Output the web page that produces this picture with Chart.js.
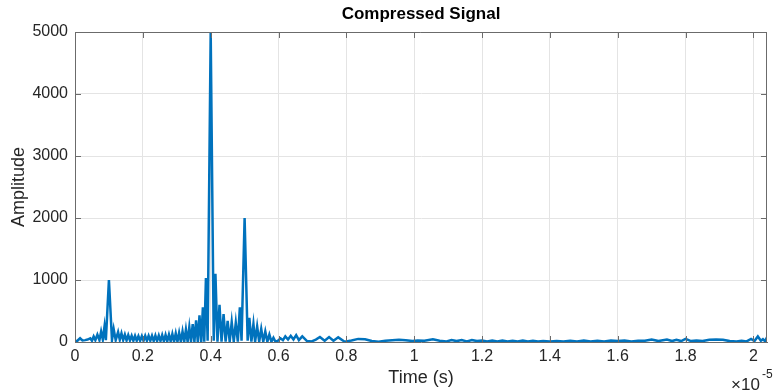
<!DOCTYPE html>
<html>
<head>
<meta charset="utf-8">
<script src="https://cdn.jsdelivr.net/npm/chart.js@4.4.0/dist/chart.umd.min.js"></script>
<style>
  html, body { margin: 0; padding: 0; background: #fff; }
  #wrap { width: 775px; height: 392px; }
</style>
</head>
<body>
<div id="wrap"><canvas id="ChartSignal" width="775" height="392"></canvas></div>
<script>
// time in units of 1e-5 s, amplitude
var timeE5 = [
    0.000, 0.007, 0.015, 0.022, 0.030, 0.037, 0.045, 0.050, 0.055, 0.060,
    0.066, 0.072, 0.077, 0.082, 0.087, 0.091, 0.100, 0.109, 0.114, 0.120,
    0.127, 0.132, 0.137, 0.142, 0.147, 0.152, 0.157, 0.162, 0.167, 0.172,
    0.177, 0.182, 0.187, 0.192, 0.197, 0.202, 0.207, 0.212, 0.217, 0.222,
    0.227, 0.232, 0.237, 0.242, 0.247, 0.252, 0.257, 0.262, 0.267, 0.272,
    0.277, 0.282, 0.287, 0.292, 0.297, 0.302, 0.307, 0.312, 0.317, 0.322,
    0.327, 0.332, 0.337, 0.342, 0.347, 0.352, 0.357, 0.362, 0.367, 0.372,
    0.377, 0.381, 0.386, 0.391, 0.400, 0.409, 0.414, 0.420, 0.426, 0.432,
    0.438, 0.444, 0.450, 0.456, 0.462, 0.468, 0.474, 0.480, 0.486, 0.491,
    0.500, 0.509, 0.514, 0.520, 0.526, 0.531, 0.537, 0.543, 0.549, 0.555,
    0.561, 0.567, 0.573, 0.579, 0.585, 0.591, 0.597, 0.606, 0.613, 0.620,
    0.628, 0.636, 0.644, 0.652, 0.660, 0.670, 0.684, 0.698, 0.710, 0.722,
    0.736, 0.749, 0.762, 0.776, 0.795, 0.815, 0.835, 0.855, 0.875, 0.895,
    0.915, 0.935, 0.955, 0.975, 0.995, 1.010, 1.030, 1.055, 1.075, 1.095,
    1.110, 1.125, 1.140, 1.155, 1.170, 1.185, 1.200, 1.215, 1.230, 1.245,
    1.260, 1.275, 1.290, 1.305, 1.320, 1.335, 1.350, 1.365, 1.380, 1.400,
    1.420, 1.440, 1.460, 1.480, 1.500, 1.520, 1.540, 1.560, 1.580, 1.600,
    1.620, 1.640, 1.660, 1.680, 1.700, 1.720, 1.745, 1.760, 1.773, 1.787,
    1.800, 1.816, 1.832, 1.850, 1.870, 1.890, 1.910, 1.930, 1.950, 1.965,
    1.980, 1.993, 2.003, 2.013, 2.022, 2.028, 2.034, 2.040
];
var amplitude = [
    15, 20, 60, 25, 30, 40, 60, 20, 90, 30,
    120, 30, 170, 40, 250, 30, 1000, 30, 210, 30,
    160, 35, 140, 30, 120, 25, 110, 25, 100, 20,
    100, 20, 95, 20, 95, 20, 100, 20, 100, 20,
    100, 15, 105, 15, 105, 15, 110, 10, 115, 10,
    120, 10, 130, 5, 140, 5, 150, 5, 170, 5,
    200, 5, 240, 5, 290, 3, 350, 3, 430, 3,
    560, 3, 1030, 20, 5000, 20, 1100, 5, 600, 5,
    450, 5, 340, 5, 320, 5, 310, 5, 560, 20,
    2000, 20, 390, 5, 290, 5, 250, 5, 210, 5,
    170, 5, 120, 5, 70, 5, 15, 60, 30, 90,
    40, 100, 40, 110, 30, 90, 15, 10, 40, 80,
    20, 80, 20, 75, 5, 25, 50, 45, 15, 5,
    20, 30, 35, 30, 15, 25, 20, 45, 20, 10,
    30, 15, 30, 10, 30, 15, 25, 10, 25, 10,
    25, 10, 20, 10, 25, 10, 20, 10, 15, 10,
    15, 10, 20, 10, 25, 10, 20, 10, 25, 15,
    25, 10, 20, 20, 40, 15, 40, 15, 35, 15,
    50, 15, 25, 15, 35, 40, 35, 15, 10, 20,
    10, 50, 15, 90, 20, 45, 15, 75
];
var xTickValues = [0, 0.2, 0.4, 0.6, 0.8, 1, 1.2, 1.4, 1.6, 1.8, 2];
var yTickValues = [0, 1000, 2000, 3000, 4000, 5000];

var lineColor = '#0072BD';
var axisColor = '#6b6b6b';
var gridColor = '#e4e4e4';
var fontFamily = '"Liberation Sans", Arial, Helvetica, sans-serif';

// MATLAB-like box, inward ticks, titles and exponent
const matlabAxes = {
    id: 'matlabAxes',
    afterDraw(chart) {
        const ctx = chart.ctx;
        const a = chart.chartArea;
        const xs = chart.scales.x;
        const ys = chart.scales.y;
        ctx.save();
        ctx.strokeStyle = axisColor;
        ctx.lineWidth = 1;
        ctx.beginPath();
        ctx.moveTo(a.left, a.top + 0.5);
        ctx.lineTo(a.right - 0.5, a.top + 0.5);
        ctx.lineTo(a.right - 0.5, a.bottom);
        ctx.stroke();
        ctx.beginPath();
        xTickValues.forEach(function (v) {
            const px = Math.round(xs.getPixelForValue(v)) + 0.5;
            ctx.moveTo(px, a.bottom);
            ctx.lineTo(px, a.bottom - 6);
            ctx.moveTo(px, a.top);
            ctx.lineTo(px, a.top + 6);
        });
        yTickValues.forEach(function (v) {
            const py = Math.round(ys.getPixelForValue(v)) + 0.5;
            ctx.moveTo(a.left, py);
            ctx.lineTo(a.left + 6, py);
            ctx.moveTo(a.right, py);
            ctx.lineTo(a.right - 6, py);
        });
        ctx.stroke();

        ctx.fillStyle = '#000';
        ctx.textAlign = 'center';
        ctx.textBaseline = 'middle';
        ctx.font = 'bold 17px ' + fontFamily;
        ctx.fillText('Compressed Signal', (a.left + a.right) / 2, 14);

        ctx.fillStyle = '#262626';
        ctx.font = '18px ' + fontFamily;
        ctx.fillText('Time (s)', (a.left + a.right) / 2, 378);

        ctx.save();
        ctx.translate(19, (a.top + a.bottom) / 2);
        ctx.rotate(-Math.PI / 2);
        ctx.fillText('Amplitude', 0, 0);
        ctx.restore();

        ctx.textAlign = 'left';
        ctx.font = '17px ' + fontFamily;
        ctx.fillText('\u00d710', 731, 385);
        ctx.font = '12px ' + fontFamily;
        ctx.fillText('-5', 762, 375);
        ctx.restore();
    }
};

const chartSignal = document.getElementById('ChartSignal');
new Chart(chartSignal, {
    type: 'line',
    data: {
        datasets: [
            {
                label: 'Compressed Signal',
                data: timeE5.map(function (t, i) { return { x: t, y: amplitude[i] }; }),
                borderColor: lineColor,
                backgroundColor: lineColor,
                borderWidth: 2.5,
                pointRadius: 0,
                tension: 0,
                fill: false,
            },
        ]
    },
    options: {
        responsive: false,
        animation: false,
        layout: {
            padding: { left: 0, right: 8, top: 32, bottom: 0 }
        },
        plugins: {
            legend: { display: false },
            title: { display: false },
            tooltip: { enabled: false }
        },
        scales: {
            x: {
                type: 'linear',
                min: 0,
                max: 2.04,
                afterBuildTicks: function (scale) {
                    scale.ticks = xTickValues.map(function (v) { return { value: v }; });
                },
                afterFit: function (scale) { scale.height = 50; },
                ticks: {
                    autoSkip: false,
                    maxRotation: 0,
                    padding: 5,
                    color: '#262626',
                    font: { family: fontFamily, size: 16 },
                    callback: function (v) { return String(Math.round(v * 10) / 10); }
                },
                grid: { color: gridColor, drawTicks: false },
                border: { color: axisColor }
            },
            y: {
                min: 0,
                max: 5000,
                afterBuildTicks: function (scale) {
                    scale.ticks = yTickValues.map(function (v) { return { value: v }; });
                },
                afterFit: function (scale) { scale.width = 75; },
                ticks: {
                    padding: 7,
                    color: '#262626',
                    font: { family: fontFamily, size: 16 },
                    callback: function (v) { return String(v); }
                },
                grid: { color: gridColor, drawTicks: false },
                border: { color: axisColor }
            }
        }
    },
    plugins: [matlabAxes]
});
</script>
</body>
</html>
